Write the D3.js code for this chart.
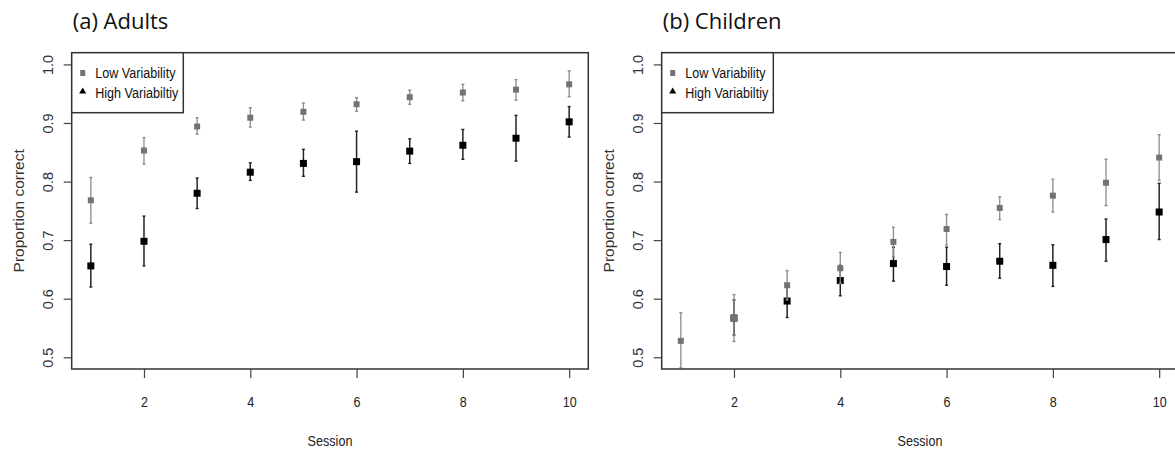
<!DOCTYPE html>
<html>
<head>
<meta charset="utf-8">
<script src="https://cdn.jsdelivr.net/npm/d3@7"></script>
<style>
  body { margin: 0; background: #fff; }
  svg { display: block; }
</style>
</head>
<body>
<script>
// sessions 1..10
var sessions = [1, 2, 3, 4, 5, 6, 7, 8, 9, 10];
var xTicks = [2, 4, 6, 8, 10];
var yTicks = [0.5, 0.6, 0.7, 0.8, 0.9, 1.0];

// (a) adults
var adultLow   = [0.768, 0.853, 0.894, 0.909, 0.919, 0.932, 0.944, 0.952, 0.957, 0.966];
var adultLowLo = [0.729, 0.830, 0.881, 0.893, 0.905, 0.920, 0.932, 0.938, 0.939, 0.945];
var adultLowHi = [0.807, 0.875, 0.909, 0.926, 0.934, 0.943, 0.956, 0.966, 0.974, 0.989];
var adultHigh   = [0.656, 0.698, 0.780, 0.816, 0.831, 0.834, 0.852, 0.862, 0.874, 0.902];
var adultHighLo = [0.620, 0.656, 0.754, 0.802, 0.809, 0.782, 0.831, 0.838, 0.835, 0.876];
var adultHighHi = [0.693, 0.741, 0.806, 0.832, 0.855, 0.886, 0.873, 0.889, 0.913, 0.928];

// (b) children (high variability session 1 not shown)
var childLow   = [0.528, 0.567, 0.623, 0.652, 0.697, 0.719, 0.755, 0.776, 0.798, 0.841];
var childLowLo = [0.482, 0.527, 0.598, 0.626, 0.672, 0.692, 0.735, 0.748, 0.759, 0.802];
var childLowHi = [0.576, 0.607, 0.648, 0.679, 0.722, 0.744, 0.774, 0.804, 0.838, 0.880];
var childHigh   = [null, 0.567, 0.596, 0.631, 0.660, 0.655, 0.664, 0.657, 0.701, 0.748];
var childHighLo = [null, 0.538, 0.568, 0.605, 0.630, 0.623, 0.635, 0.621, 0.664, 0.701];
var childHighHi = [null, 0.598, 0.624, 0.657, 0.688, 0.688, 0.694, 0.692, 0.736, 0.797];

var legendLabels = ['Low Variability', 'High Variabiltiy'];

var lowColor = '#737373', lowBar = '#8c8c8c';
var highColor = '#000', highBar = '#222';
var squeeze = 0.84; // the picture is a bit narrow horizontally

var svg = d3.select('body').append('svg')
  .attr('width', 1175)
  .attr('height', 450);

var drawPanel = function(left, title, low, lowLo, lowHi, high, highLo, highHi) {
  var box = {x0: left, x1: left + 516.6, y0: 52.7, y1: 369};
  var x = d3.scaleLinear().domain([0.64, 10.36]).range([box.x0, box.x1]);
  var y = d3.scaleLinear().domain([0.48, 1.02]).range([box.y1, box.y0]);

  var g = svg.append('g');

  g.append('text')
    .attr('x', left + 1)
    .attr('y', 29)
    .attr('font-family', 'Open Sans, sans-serif')
    .attr('font-size', 22)
    .attr('fill', '#111')
    .text(title);

  // y axis
  var yAxis = g.append('g')
    .attr('transform', 'translate(' + box.x0 + ',0)')
    .call(d3.axisLeft(y).tickValues(yTicks).tickSize(8).tickFormat(d3.format('.1f')));
  yAxis.select('.domain').remove();
  yAxis.selectAll('line').attr('stroke', '#444').attr('stroke-width', 1.2);
  yAxis.selectAll('text')
    .attr('transform', 'translate(-23.5,0) rotate(-90)')
    .attr('x', 0).attr('y', 0).attr('dy', '0.35em')
    .attr('text-anchor', 'middle')
    .attr('font-family', 'Liberation Sans, Arial, sans-serif')
    .attr('font-size', 14.5)
    .attr('fill', '#333');

  // x axis
  var xAxis = g.append('g')
    .attr('transform', 'translate(0,' + box.y1 + ')')
    .call(d3.axisBottom(x).tickValues(xTicks).tickSize(9));
  xAxis.select('.domain').remove();
  xAxis.selectAll('line').attr('stroke', '#444').attr('stroke-width', 1.2);
  xAxis.selectAll('text')
    .attr('y', 0).attr('dy', 0)
    .attr('transform', 'translate(0,37.5) scale(' + squeeze + ',1)')
    .attr('font-family', 'Liberation Sans, Arial, sans-serif')
    .attr('font-size', 15)
    .attr('fill', '#222');

  g.append('text')
    .attr('transform', 'translate(' + ((box.x0 + box.x1) / 2) + ',446) scale(' + squeeze + ',1)')
    .attr('text-anchor', 'middle')
    .attr('font-family', 'Liberation Sans, Arial, sans-serif')
    .attr('font-size', 15)
    .attr('fill', '#222')
    .text('Session');

  g.append('text')
    .attr('transform', 'translate(' + (left - 53) + ',' + ((box.y0 + box.y1) / 2) + ') rotate(-90)')
    .attr('text-anchor', 'middle')
    .attr('dy', '0.35em')
    .attr('font-family', 'Liberation Sans, Arial, sans-serif')
    .attr('font-size', 15.5)
    .attr('fill', '#333')
    .text('Proportion correct');

  var drawSeries = function(vals, lo, hi, barColor, fill, size, width) {
    var pts = sessions.map(function(s, i) {
      return {s: s, v: vals[i], lo: lo[i], hi: hi[i]};
    }).filter(function(d) { return d.v !== null; });

    var sg = g.append('g');
    sg.selectAll('line.bar').data(pts).enter().append('line')
      .attr('class', 'bar')
      .attr('x1', function(d) { return x(d.s); })
      .attr('x2', function(d) { return x(d.s); })
      .attr('y1', function(d) { return y(Math.max(d.lo, 0.48)); })
      .attr('y2', function(d) { return y(d.hi); })
      .attr('stroke', barColor)
      .attr('stroke-width', width);
    ['lo', 'hi'].forEach(function(k) {
      sg.selectAll('line.cap' + k).data(pts).enter().append('line')
        .attr('class', 'cap' + k)
        .attr('x1', function(d) { return x(d.s) - 1.5; })
        .attr('x2', function(d) { return x(d.s) + 1.5; })
        .attr('y1', function(d) { return y(Math.max(d[k], 0.48)); })
        .attr('y2', function(d) { return y(Math.max(d[k], 0.48)); })
        .attr('stroke', barColor)
        .attr('stroke-width', 1.4);
    });
    sg.selectAll('rect').data(pts).enter().append('rect')
      .attr('x', function(d) { return x(d.s) - size / 2; })
      .attr('y', function(d) { return y(d.v) - size / 2; })
      .attr('width', size)
      .attr('height', size)
      .attr('fill', fill);
  };

  drawSeries(high, highLo, highHi, highBar, highColor, 7, 1.5);
  drawSeries(low, lowLo, lowHi, lowBar, lowColor, 6, 1.3);

  // plot box
  g.append('rect')
    .attr('x', box.x0).attr('y', box.y0)
    .attr('width', box.x1 - box.x0).attr('height', box.y1 - box.y0)
    .attr('fill', 'none')
    .attr('stroke', '#333')
    .attr('stroke-width', 1.5);

  // legend
  var lg = g.append('g');
  lg.append('rect')
    .attr('x', box.x0).attr('y', box.y0)
    .attr('width', 111.6).attr('height', 60)
    .attr('fill', '#fff')
    .attr('stroke', '#333')
    .attr('stroke-width', 1.5);
  lg.append('rect')
    .attr('x', box.x0 + 8.5).attr('y', 70)
    .attr('width', 5).attr('height', 6)
    .attr('fill', lowColor);
  lg.append('path')
    .attr('d', d3.symbol().type(d3.symbolTriangle).size(22))
    .attr('transform', 'translate(' + (box.x0 + 11) + ',91.5)')
    .attr('fill', highColor);
  lg.selectAll('text.leg').data(legendLabels).enter().append('text')
    .attr('class', 'leg')
    .attr('transform', function(d, i) {
      return 'translate(' + (box.x0 + 23.5) + ',' + (73 + i * 19.5) + ') scale(' + squeeze + ',1)';
    })
    .attr('dy', '0.35em')
    .attr('font-family', 'Liberation Sans, Arial, sans-serif')
    .attr('font-size', 15)
    .attr('fill', '#111')
    .text(function(d) { return d; });
};

drawPanel(71.7, '(a) Adults', adultLow, adultLowLo, adultLowHi, adultHigh, adultHighLo, adultHighHi);
drawPanel(661.7, '(b) Children', childLow, childLowLo, childLowHi, childHigh, childHighLo, childHighHi);
</script>
</body>
</html>
